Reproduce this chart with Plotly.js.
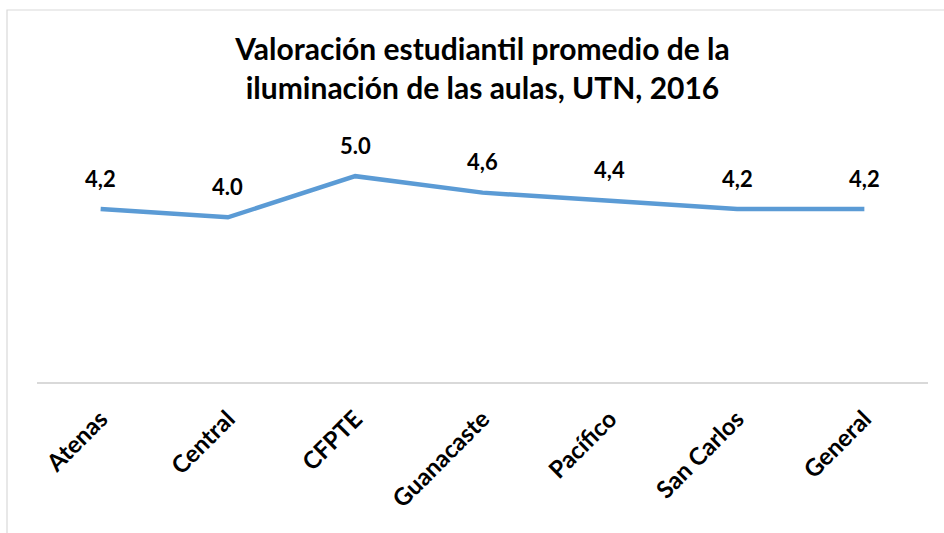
<!DOCTYPE html>
<html>
<head>
<meta charset="utf-8">
<script src="https://cdn.plot.ly/plotly-3.0.1.min.js"></script>
<style>
html,body{margin:0;padding:0;background:#fff;}
#chart{width:944px;height:533px;}
</style>
</head>
<body>
<div id="chart"></div>
<script>
const categories = ["Atenas", "Central", "CFPTE", "Guanacaste", "Pacífico", "San Carlos", "General"];
const values = [4.2, 4.0, 5.0, 4.6, 4.4, 4.2, 4.2];
const valueLabels = ["4,2", "4.0", "5.0", "4,6", "4,4", "4,2", "4,2"];
const titleText = "Valoración estudiantil promedio de la<br>iluminación de las aulas, UTN, 2016";

const FONT = "Lato, 'Noto Sans', sans-serif";

const trace = {
  type: "scatter",
  mode: "lines",
  x: categories,
  y: values,
  line: {color: "#5B9BD5", width: 4.5},
  hoverinfo: "skip"
};

const annotations = categories.map((c, i) => ({
  x: c, y: values[i], xref: "x", yref: "y",
  text: "<b>" + valueLabels[i] + "</b>",
  showarrow: false, yanchor: "middle", xanchor: "center",
  yshift: 31,
  font: {family: FONT, size: 22, color: "#000"}
}));

const layout = {
  width: 944, height: 533,
  margin: {l: 37, r: 16, t: 135, b: 151},
  paper_bgcolor: "#fff", plot_bgcolor: "#fff",
  showlegend: false,
  title: {
    text: "<b>" + titleText + "</b>",
    x: 0.5, xref: "paper", xanchor: "center",
    y: 0.888, yref: "container", yanchor: "middle",
    font: {family: FONT, size: 30, color: "#000"}
  },
  xaxis: {
    type: "category",
    range: [-0.5, categories.length - 0.5],
    showgrid: false, zeroline: false,
    showline: true, linecolor: "#d9d9d9", linewidth: 1.5,
    ticks: "", tickangle: -45,
    ticklabelstandoff: 12,
    tickfont: {family: FONT, size: 24, color: "#000", weight: "bold"}
  },
  yaxis: {
    range: [0, 6], visible: false, showgrid: false, zeroline: false, fixedrange: true
  },
  annotations: annotations,
  shapes: [{
    type: "rect", xref: "paper", yref: "paper",
    x0: (7 - 37) / 891, x1: 1.1, y0: -0.7, y1: (382 - 10) / 247,
    line: {color: "#d9d9d9", width: 1.2}, fillcolor: "rgba(0,0,0,0)", layer: "below"
  }]
};

Plotly.newPlot("chart", [trace], layout, {displayModeBar: false, staticPlot: true});
</script>
</body>
</html>
